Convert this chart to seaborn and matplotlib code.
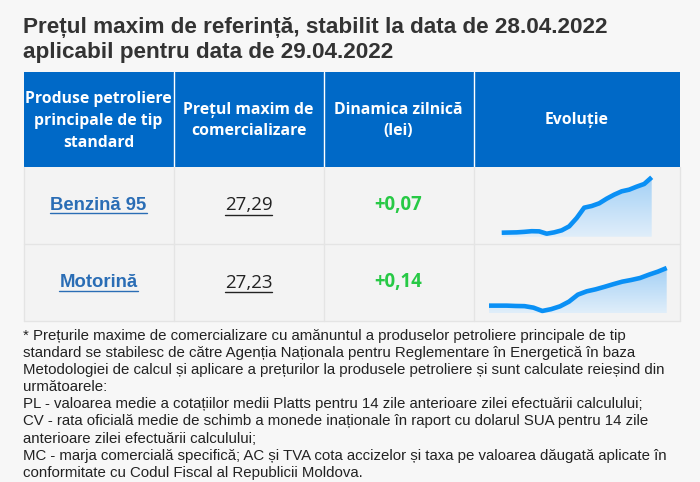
import numpy as np
import pandas as pd
import seaborn as sns
import matplotlib.pyplot as plt
from matplotlib.colors import LinearSegmentedColormap

# ---- data ----
title_lines = ['Prețul maxim de referință, stabilit la data de 28.04.2022',
               'aplicabil pentru data de 29.04.2022']
headers = ['Produse petroliere\nprincipale de tip\nstandard',
           'Prețul maxim de\ncomercializare',
           'Dinamica zilnică\n(lei)',
           'Evoluție']
products = ['Benzină 95', 'Motorină']
prices = ['27,29', '27,23']
changes = ['+0,07', '+0,14']
benzina_trend = [25.63, 25.635, 25.64, 25.655, 25.675, 25.67, 25.60, 25.64, 25.70, 25.82,
                 26.07, 26.38, 26.43, 26.51, 26.65, 26.77, 26.87, 26.92, 27.01, 27.09, 27.29]
motorina_trend = [26.10, 26.10, 26.10, 26.09, 26.085, 26.04, 25.94, 25.995, 26.08, 26.22,
                  26.43, 26.53, 26.59, 26.665, 26.745, 26.82, 26.87, 26.93, 27.03, 27.12, 27.23]
footnote = [
    '* Prețurile maxime de comercializare cu amănuntul a produselor petroliere principale de tip',
    'standard se stabilesc de către Agenția Naționala pentru Reglementare în Energetică în baza',
    'Metodologiei de calcul și aplicare a prețurilor la produsele petroliere și sunt calculate reieșind din',
    'următoarele:',
    'PL - valoarea medie a cotațiilor medii Platts pentru 14 zile anterioare zilei efectuării calculului;',
    'CV - rata oficială medie de schimb a monede inaționale în raport cu dolarul SUA pentru 14 zile',
    'anterioare zilei efectuării calculului;',
    'MC - marja comercială specifică; AC și TVA cota accizelor și taxa pe valoarea dăugată aplicate în',
    'conformitate cu Codul Fiscal al Republicii Moldova.',
]

W, H = 700, 482
BLUE = '#0069c7'
CELL = '#f3f3f3'
GRID = '#e4e4e4'

sns.set_theme(style='white')
plt.rcParams['font.family'] = ['Liberation Sans', 'DejaVu Sans']

fig = plt.figure(figsize=(W / 100, H / 100), dpi=100)
fig.patch.set_facecolor('#f7f7f7')
ax = fig.add_axes([0, 0, 1, 1])
ax.set_xlim(0, W)
ax.set_ylim(H, 0)
ax.axis('off')


def px(size):
    return size * 0.72


# title
for i, line in enumerate(title_lines):
    ax.text(23, 33 + 25 * i, line, fontsize=px(22.5), fontweight='bold', color='#333333',
            va='baseline', ha='left')

# table geometry
cols = [23.5, 173.5, 323.5, 473.5, 680]
rows = [72, 167, 244, 320.5]

ax.add_patch(plt.Rectangle((cols[0], rows[0]), cols[-1] - cols[0], rows[1] - rows[0],
                           facecolor=BLUE, edgecolor='none'))
ax.add_patch(plt.Rectangle((cols[0], rows[1]), cols[-1] - cols[0], rows[-1] - rows[1],
                           facecolor=CELL, edgecolor='none'))
for x in cols[1:-1]:
    ax.plot([x, x], [rows[0], rows[1]], color='white', lw=1)
    ax.plot([x, x], [rows[1], rows[-1]], color=GRID, lw=1)
for y in rows[2:]:
    ax.plot([cols[0], cols[-1]], [y, y], color=GRID, lw=1)
ax.plot([cols[0], cols[0]], [rows[1], rows[-1]], color=GRID, lw=1)
ax.plot([cols[-1], cols[-1]], [rows[1], rows[-1]], color=GRID, lw=1)

head_y = [121, 120.5, 120.5, 119.5]
for i, h in enumerate(headers):
    ax.text((cols[i] + cols[i + 1]) / 2, head_y[i], h, ha='center', va='center',
            color='white', fontsize=px(15.8), fontweight='bold', linespacing=1.47,
            family=['Open Sans', 'DejaVu Sans'])

row_y = [205, 282.5]
under = []
for r in range(len(products)):
    t1 = ax.text(98.5, row_y[r], products[r], ha='center', va='center', color='#2a6db5',
                 fontsize=px(18.5), fontweight='bold')
    t2 = ax.text(248.5, row_y[r], prices[r], ha='center', va='center', color='#222222',
                 fontsize=px(18.8), family=['Open Sans', 'DejaVu Sans'])
    ax.text(398, row_y[r], changes[r], ha='center', va='center', color='#27c945',
            fontsize=px(18.6), fontweight='bold', family=['Open Sans', 'DejaVu Sans'])
    under.append((t1, '#2a6db5', 8))
    under.append((t2, '#222222', 9.5))

fig.canvas.draw()
renderer = fig.canvas.get_renderer()
inv = ax.transData.inverted()
for t, c, dy in under:
    bb = t.get_window_extent(renderer)
    (x0, _), (x1, _) = inv.transform([[bb.x0, bb.y0], [bb.x1, bb.y1]])
    ax.plot([x0, x1], [t.get_position()[1] + dy] * 2, color=c, lw=1)

# footnote
for i, line in enumerate(footnote):
    ax.text(23, 340 + 17.1 * i, line, fontsize=px(15), color='#222222',
            va='baseline', ha='left')

# sparklines
grad_cmap = LinearSegmentedColormap.from_list('spark', ['#e0eefa', '#a3d0f5'])
spark_boxes = [(501.7, 651.7, 177.3, 236.7, 25.51), (489, 666.7, 268, 313.3, 25.87)]
for trend, (x0, x1, y0, y1, low) in zip([benzina_trend, motorina_trend], spark_boxes):
    sax = fig.add_axes([x0 / W, 1 - y1 / H, (x1 - x0) / W, (y1 - y0) / H])
    df = pd.DataFrame({'day': np.arange(len(trend)), 'price': trend})
    top = max(trend)
    poly = sax.fill_between(df['day'], df['price'], low, facecolor='none', edgecolor='none')
    grad = np.linspace(0, 1, 256).reshape(-1, 1)
    im = sax.imshow(grad, extent=[0, len(trend) - 1, low, top], origin='lower',
                    aspect='auto', cmap=grad_cmap, zorder=1)
    im.set_clip_path(poly.get_paths()[0], transform=sax.transData)
    sns.lineplot(data=df, x='day', y='price', ax=sax, color='#0a90f5', lw=3.3, zorder=3)
    for ln in sax.lines:
        ln.set_clip_on(False)
        ln.set_solid_capstyle('butt')
    sax.set_xlim(0, len(trend) - 1)
    sax.set_ylim(low, top)
    sax.axis('off')

fig.savefig('out.png', dpi=100, facecolor=fig.get_facecolor())
